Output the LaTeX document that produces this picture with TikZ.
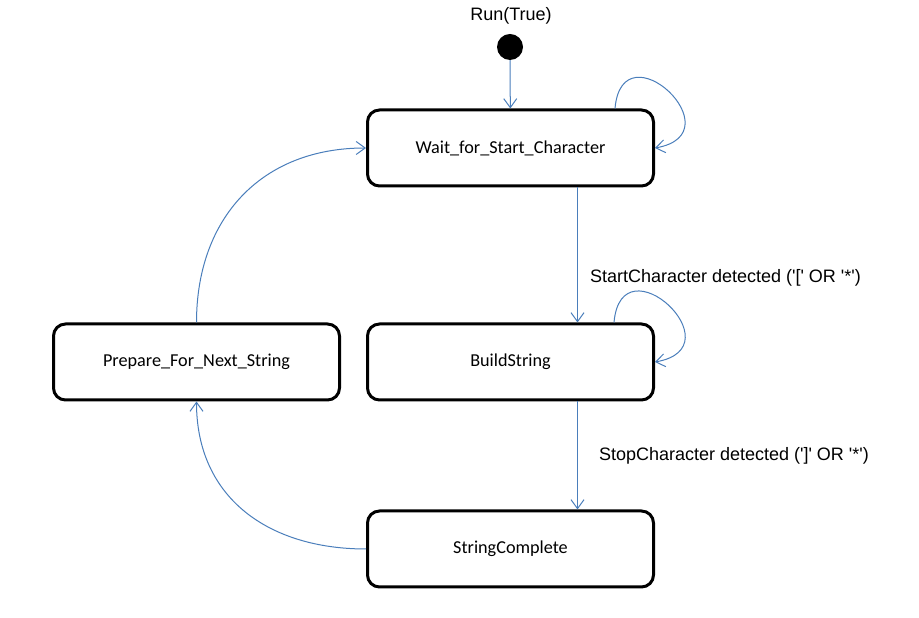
\documentclass[tikz,border=0pt]{standalone}
\usepackage{fontspec}
\setmainfont{Liberation Sans}
\newfontfamily\statefont{Carlito}
\usetikzlibrary{arrows.meta}
\definecolor{edgeBlue}{RGB}{74,126,187}
\newcommand{\sq}{\textquotesingle}
\begin{document}
\begin{tikzpicture}
[x=1pt,y=1pt,
  blueArrow/.style={-{Straight Barb[length=9pt,width=13pt]},line width=1pt,color=edgeBlue},%
  stateDecorate/.style={shape=rectangle,rounded corners=12pt,draw,line width=3pt,
    minimum width=286pt,minimum height=76pt,font=\statefont\fontsize{18.2}{22}\selectfont},%
  labelText/.style={font=\fontsize{18}{22}\selectfont,inner sep=0pt,text=black}]
\useasboundingbox (0,0) rectangle (919,618);
%% initial state
\node (init) at (510,571) [circle,fill=black,minimum size=26pt,inner sep=0pt] {};
\node (run) at (511,602) [labelText] {Run(True)};
%% states
\foreach \nodename/\x/\y/\statename in {wait/510.5/470/Wait\_for\_Start\_Character,
  build/510.5/256/BuildString, prepare/196.5/256/Prepare\_For\_Next\_String,
  complete/510.5/69/StringComplete}
{
  \node (\nodename) at (\x,\y) [stateDecorate] {\statename};
}
%% transitions
\path
(init) edge[blueArrow] (wait)
([xshift=67pt]wait.south) edge[blueArrow] node[labelText,pos=0.667,anchor=west,xshift=12pt]
  {StartCharacter detected (\sq[\sq{} OR \sq*\sq)} ([xshift=67pt]build.north)
([xshift=67pt]build.south) edge[blueArrow] node[labelText,pos=0.5,anchor=west,xshift=21pt]
  {StopCharacter detected (\sq]\sq{} OR \sq*\sq)} ([xshift=67pt]complete.north)
(complete.west) edge[blueArrow,out=180,in=-90,looseness=1.1] (prepare.south)
(prepare.north) edge[blueArrow,out=90,in=180,looseness=1.1] (wait.west)
%% self loops
\foreach \nodename/\shift in {wait/104.5, build/103.5}
{
  ([xshift=\shift pt]\nodename.north) edge[blueArrow,out=85,in=10,looseness=3.8] (\nodename.east)
};
\end{tikzpicture}
\end{document}
